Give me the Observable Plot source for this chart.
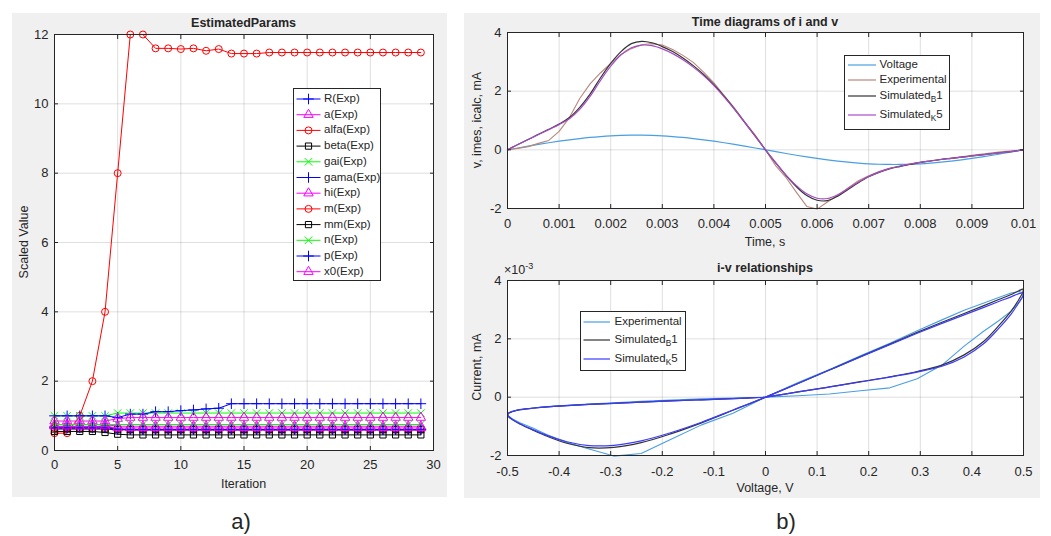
<!DOCTYPE html>
<html><head><meta charset="utf-8">
<script src="https://cdn.jsdelivr.net/npm/d3@7"></script>
<script src="https://cdn.jsdelivr.net/npm/@observablehq/plot@0.6"></script>
<style>
body{margin:0;background:#fff;}
#fig{position:relative;width:1051px;height:536px;background:#fff;font-family:"Liberation Sans",Arial,sans-serif;color:#262626;overflow:hidden}
.panel{position:absolute;background:#f0f0f0}
.abs{position:absolute;white-space:nowrap;line-height:1;color:#262626}
.lg{position:absolute;background:#fff;border:1px solid #262626;box-sizing:border-box}
sub{font-size:0.72em;vertical-align:-0.35em;line-height:0}
sup{font-size:0.72em;vertical-align:0.55em;line-height:0}
</style></head><body><div id="fig"></div>
<script>
// ---------- Panel a data ----------
const iterations = [0,1,2,3,4,5,6,7,8,9,10,11,12,13,14,15,16,17,18,19,20,21,22,23,24,25,26,27,28,29];
const R    = [0.68,0.68,0.68,0.68,0.70,0.62,0.60,0.60,0.60,0.60,0.60,0.60,0.60,0.60,0.60,0.60,0.60,0.60,0.60,0.60,0.60,0.60,0.60,0.60,0.60,0.60,0.60,0.60,0.60,0.60];
const a    = [0.75,0.75,0.75,0.75,0.75,0.70,0.70,0.70,0.70,0.70,0.70,0.70,0.70,0.70,0.70,0.70,0.70,0.70,0.70,0.70,0.70,0.70,0.70,0.70,0.70,0.70,0.70,0.70,0.70,0.70];
const alfa = [0.5,0.5,1.0,2.0,4.0,8.0,12.0,12.0,11.6,11.6,11.58,11.6,11.53,11.58,11.45,11.45,11.45,11.48,11.48,11.48,11.48,11.48,11.48,11.48,11.48,11.48,11.48,11.48,11.48,11.48];
const beta = [0.55,0.55,0.55,0.55,0.52,0.47,0.45,0.45,0.45,0.45,0.45,0.45,0.45,0.45,0.45,0.45,0.45,0.45,0.45,0.45,0.45,0.45,0.45,0.45,0.45,0.45,0.45,0.45,0.45,0.45];
const gai  = [1.0,1.0,1.0,1.0,1.0,1.08,1.08,1.08,1.08,1.08,1.08,1.08,1.08,1.08,1.08,1.08,1.08,1.08,1.08,1.08,1.08,1.08,1.08,1.08,1.08,1.08,1.08,1.08,1.08,1.08];
const gama = [1.0,1.0,1.0,1.0,1.0,0.95,1.05,1.05,1.12,1.12,1.15,1.17,1.2,1.22,1.35,1.35,1.35,1.35,1.35,1.35,1.35,1.35,1.35,1.35,1.35,1.35,1.35,1.35,1.35,1.35];
const hi   = [0.85,0.85,0.85,0.85,0.85,0.92,0.95,0.95,0.95,0.95,0.95,0.95,0.95,0.95,0.95,0.95,0.95,0.95,0.95,0.95,0.95,0.95,0.95,0.95,0.95,0.95,0.95,0.95,0.95,0.95];
const m    = [0.65,0.65,0.65,0.65,0.65,0.62,0.60,0.60,0.60,0.60,0.60,0.60,0.60,0.60,0.60,0.60,0.60,0.60,0.60,0.60,0.60,0.60,0.60,0.60,0.60,0.60,0.60,0.60,0.60,0.60];
const mm   = [0.62,0.62,0.62,0.62,0.62,0.60,0.60,0.60,0.60,0.60,0.60,0.60,0.60,0.60,0.60,0.60,0.60,0.60,0.60,0.60,0.60,0.60,0.60,0.60,0.60,0.60,0.60,0.60,0.60,0.60];
const n    = [0.75,0.75,0.75,0.75,0.75,0.75,0.75,0.75,0.75,0.75,0.75,0.75,0.75,0.75,0.75,0.75,0.75,0.75,0.75,0.75,0.75,0.75,0.75,0.75,0.75,0.75,0.75,0.75,0.75,0.75];
const p    = [0.65,0.65,0.65,0.65,0.65,0.60,0.60,0.60,0.60,0.60,0.60,0.60,0.60,0.60,0.60,0.60,0.60,0.60,0.60,0.60,0.60,0.60,0.60,0.60,0.60,0.60,0.60,0.60,0.60,0.60];
const x0   = [0.70,0.70,0.70,0.70,0.70,0.65,0.65,0.65,0.65,0.65,0.65,0.65,0.65,0.65,0.65,0.65,0.65,0.65,0.65,0.65,0.65,0.65,0.65,0.65,0.65,0.65,0.65,0.65,0.65,0.65];
const paramNames = ["R(Exp)","a(Exp)","alfa(Exp)","beta(Exp)","gai(Exp)","gama(Exp)","hi(Exp)","m(Exp)","mm(Exp)","n(Exp)","p(Exp)","x0(Exp)"];
const paramValues = [R,a,alfa,beta,gai,gama,hi,m,mm,n,p,x0];
const xTicksA = [0,5,10,15,20,25,30];
const yTicksA = [0,2,4,6,8,10,12];

// ---------- Panel b data ----------
const timeS = [0,0.0002,0.0004,0.0006,0.0008,0.001,0.0012,0.0014,0.0016,0.0018,0.002,0.0022,0.0024,0.0026,0.0028,0.003,0.0032,0.0034,0.0036,0.0038,0.004,0.0042,0.0044,0.0046,0.0048,0.005,0.0052,0.0054,0.0056,0.0058,0.006,0.0062,0.0064,0.0066,0.0068,0.007,0.0072,0.0074,0.0076,0.0078,0.008,0.0082,0.0084,0.0086,0.0088,0.009,0.0092,0.0094,0.0096,0.0098,0.01];
const voltage = [0,0.063,0.124,0.184,0.241,0.294,0.342,0.385,0.422,0.452,0.476,0.491,0.499,0.499,0.491,0.476,0.452,0.422,0.385,0.342,0.294,0.241,0.184,0.124,0.063,0,-0.063,-0.124,-0.184,-0.241,-0.294,-0.342,-0.385,-0.422,-0.452,-0.476,-0.491,-0.499,-0.499,-0.491,-0.476,-0.452,-0.422,-0.385,-0.342,-0.294,-0.241,-0.184,-0.124,-0.063,0];
const experimental = [0,0.05,0.11,0.22,0.32,0.63,1.10,1.75,2.25,2.62,2.95,3.25,3.45,3.58,3.62,3.57,3.42,3.22,2.98,2.65,2.28,1.85,1.42,0.95,0.50,0,-0.55,-0.95,-1.45,-1.93,-2.02,-1.78,-1.55,-1.30,-1.05,-0.88,-0.74,-0.63,-0.55,-0.48,-0.43,-0.37,-0.32,-0.28,-0.24,-0.19,-0.14,-0.10,-0.06,-0.03,0];
const simulatedB1 = [0,0.18,0.35,0.53,0.70,0.88,1.10,1.45,1.90,2.45,2.95,3.35,3.62,3.70,3.65,3.52,3.35,3.13,2.87,2.57,2.22,1.82,1.39,0.93,0.47,0,-0.45,-0.88,-1.26,-1.56,-1.72,-1.73,-1.58,-1.35,-1.12,-0.92,-0.77,-0.65,-0.57,-0.50,-0.43,-0.38,-0.33,-0.29,-0.25,-0.21,-0.17,-0.13,-0.09,-0.05,0];
const simulatedK5 = [0,0.18,0.35,0.52,0.69,0.86,1.06,1.38,1.82,2.36,2.85,3.24,3.48,3.57,3.55,3.44,3.28,3.07,2.82,2.53,2.19,1.80,1.38,0.93,0.47,0,-0.44,-0.86,-1.22,-1.50,-1.65,-1.66,-1.53,-1.32,-1.10,-0.91,-0.76,-0.64,-0.56,-0.49,-0.43,-0.38,-0.33,-0.29,-0.25,-0.21,-0.17,-0.13,-0.09,-0.05,0];
const xTicksTop = [0,0.001,0.002,0.003,0.004,0.005,0.006,0.007,0.008,0.009,0.01];
const yTicksTop = [-2,0,2,4];
const xTicksIV = [-0.5,-0.4,-0.3,-0.2,-0.1,0,0.1,0.2,0.3,0.4,0.5];
const yTicksIV = [-2,0,2,4];

// ---------- styles ----------
const paramColors = ["#0000ff","#ff00ff","#ff0000","#000000","#00ff00","#0000ff","#ff00ff","#ff0000","#000000","#00ff00","#0000ff","#ff00ff"];
const paramSymbols = ["plus","triangle","circle","square","times","plus","triangle","circle","square","times","plus","triangle"];
const C = {volt:"#4a9fe0", expTop:"#b8877c", b1:"#333333", k5top:"#a64dc4", expIV:"#4a9fe0", k5IV:"#3b3bff"};
const FONT = "'Liberation Sans', Arial, sans-serif";
const GRID = {stroke:"#262626", strokeOpacity:0.15, strokeWidth:1};
const TICKFS = 13;

const fig = document.getElementById("fig");
function panel(l,t,w,h){const d=document.createElement("div");d.className="panel";Object.assign(d.style,{left:l+"px",top:t+"px",width:w+"px",height:h+"px"});fig.appendChild(d);}
function txt(s,x,y,{size=12,weight="normal",rotate=0,anchor="middle",html=false}={}){
  const d=document.createElement("div");d.className="abs";
  if(html)d.innerHTML=s;else d.textContent=s;
  d.style.fontSize=size+"px";d.style.fontWeight=weight;d.style.left=x+"px";d.style.top=y+"px";
  const tx=anchor==="middle"?"-50%":anchor==="start"?"0":"-100%";
  d.style.transform=`translate(${tx},-50%)`+(rotate?` rotate(${rotate}deg)`:"");
  fig.appendChild(d);return d;
}
function place(svg,l,t){svg.style.position="absolute";svg.style.left=l+"px";svg.style.top=t+"px";fig.appendChild(svg);}
const fmtNum = d => String(d);
function boxAxes(xT,yT,xFmt,yFmt,padX,padY){
  const blank=()=>"";
  return [
    Plot.frame({stroke:"#262626",strokeWidth:1}),
    Plot.axisX(xT,{anchor:"bottom",tickSize:-4,tickFormat:blank,label:null}),
    Plot.axisX(xT,{anchor:"top",tickSize:-4,tickFormat:blank,label:null}),
    Plot.axisY(yT,{anchor:"left",tickSize:-4,tickFormat:blank,label:null}),
    Plot.axisY(yT,{anchor:"right",tickSize:-4,tickFormat:blank,label:null}),
    Plot.axisX(xT,{anchor:"bottom",tickSize:0,tickPadding:padX,tickFormat:xFmt,label:null,fontSize:TICKFS}),
    Plot.axisY(yT,{anchor:"left",tickSize:0,tickPadding:padY,tickFormat:yFmt,label:null,fontSize:TICKFS})
  ];
}
const svgStyle={fontFamily:FONT,fontSize:"12px",color:"#262626",background:"transparent",overflow:"visible"};

// ---------- backgrounds ----------
panel(12,13,435,484);
panel(464,13,576,485);

// ---------- Panel a ----------
const seriesMarks=[];
paramValues.forEach((vals,k)=>{
  const rows=iterations.map((it,i)=>({x:it,y:vals[i]}));
  seriesMarks.push(Plot.line(rows,{x:"x",y:"y",stroke:paramColors[k],strokeWidth:1}));
  seriesMarks.push(Plot.dot(rows,{x:"x",y:"y",stroke:paramColors[k],fill:"none",symbol:paramSymbols[k],r:3.5,strokeWidth:1}));
});
const plotA=Plot.plot({
  width:435,height:484,marginLeft:42,marginRight:14,marginTop:21,marginBottom:47,
  style:svgStyle,
  x:{domain:[0,30]},y:{domain:[0,12]},
  marks:[
    Plot.frame({fill:"white",stroke:"none"}),
    Plot.gridX(xTicksA,GRID),Plot.gridY(yTicksA,GRID),
    ...seriesMarks,
    ...boxAxes(xTicksA,yTicksA,fmtNum,fmtNum,9,6)
  ]
});
place(plotA,12,13);

// ---------- Panel b top ----------
const rowsT=timeS.map((t,i)=>({t,v:voltage[i],e:experimental[i],b:simulatedB1[i],k:simulatedK5[i]}));
const plotTop=Plot.plot({
  width:576,height:230,marginLeft:43,marginRight:17,marginTop:19,marginBottom:35,
  style:svgStyle,
  x:{domain:[0,0.01]},y:{domain:[-2,4]},
  marks:[
    Plot.frame({fill:"white",stroke:"none"}),
    Plot.gridX(xTicksTop,GRID),Plot.gridY(yTicksTop,GRID),
    Plot.line(rowsT,{x:"t",y:"v",stroke:C.volt,strokeWidth:1.2,curve:"catmull-rom"}),
    Plot.line(rowsT,{x:"t",y:"e",stroke:C.expTop,strokeWidth:1.1}),
    Plot.line(rowsT,{x:"t",y:"b",stroke:C.b1,strokeWidth:1.2,curve:"catmull-rom"}),
    Plot.line(rowsT,{x:"t",y:"k",stroke:C.k5top,strokeWidth:1.2,curve:"catmull-rom"}),
    ...boxAxes(xTicksTop,yTicksTop,fmtNum,fmtNum,10,6)
  ]
});
place(plotTop,464,13);

// ---------- Panel b bottom (i-v) ----------
const plotIV=Plot.plot({
  width:576,height:235,marginLeft:43,marginRight:17,marginTop:25,marginBottom:35,
  style:svgStyle,
  x:{domain:[-0.5,0.5]},y:{domain:[-2,4]},
  marks:[
    Plot.frame({fill:"white",stroke:"none"}),
    Plot.gridX(xTicksIV,GRID),Plot.gridY(yTicksIV,GRID),
    Plot.line(rowsT,{x:"v",y:"e",stroke:C.expIV,strokeWidth:1.1}),
    Plot.line(rowsT,{x:"v",y:"b",stroke:C.b1,strokeWidth:1.2,curve:"catmull-rom"}),
    Plot.line(rowsT,{x:"v",y:"k",stroke:C.k5IV,strokeWidth:1.2,curve:"catmull-rom"}),
    ...boxAxes(xTicksIV,yTicksIV,fmtNum,fmtNum,11,6)
  ]
});
place(plotIV,464,255);

// ---------- Legend boxes ----------
function lgBox(l,t,w,h){const d=document.createElement("div");d.className="lg";Object.assign(d.style,{left:l+"px",top:t+"px",width:w+"px",height:h+"px"});fig.appendChild(d);}
lgBox(293,88,88,193);
lgBox(844,55,106,75);
lgBox(580,311,106,60);

// overlay svg for legend samples
const ov=d3.create("svg").attr("width",1051).attr("height",536).style("position","absolute").style("left","0").style("top","0").style("pointer-events","none");
const symMap={plus:d3.symbolPlus,triangle:d3.symbolTriangle,circle:d3.symbolCircle,square:d3.symbolSquare,times:d3.symbolTimes||d3.symbolX};
paramNames.forEach((nm,i)=>{
  const y=99+15.7*i;
  ov.append("line").attr("x1",296.5).attr("x2",320.5).attr("y1",y).attr("y2",y).attr("stroke",paramColors[i]).attr("stroke-width",1);
  ov.append("path").attr("d",d3.symbol().type(symMap[paramSymbols[i]]).size(Math.PI*3.5*3.5)()).attr("transform",`translate(308.5,${y})`).attr("fill","none").attr("stroke",paramColors[i]).attr("stroke-width",1);
  txt(nm,324,y,{size:11.5,anchor:"start"});
});
const topLeg=[["Voltage",C.volt,65],["Experimental",C.expTop,80],["Simulated<sub>B</sub>1",C.b1,96],["Simulated<sub>K</sub>5",C.k5top,115]];
topLeg.forEach(([s,c,y])=>{
  ov.append("line").attr("x1",848).attr("x2",876).attr("y1",y).attr("y2",y).attr("stroke",c).attr("stroke-width",1.2);
  txt(s,879.5,y,{size:11.5,anchor:"start",html:true});
});
const ivLeg=[["Experimental",C.expIV,322],["Simulated<sub>B</sub>1",C.b1,340],["Simulated<sub>K</sub>5",C.k5IV,359]];
ivLeg.forEach(([s,c,y])=>{
  ov.append("line").attr("x1",583.5).attr("x2",610).attr("y1",y).attr("y2",y).attr("stroke",c).attr("stroke-width",1.2);
  txt(s,614.5,y,{size:11.5,anchor:"start",html:true});
});
fig.appendChild(ov.node());

// ---------- Texts ----------
txt("EstimatedParams",243.5,23,{size:12.5,weight:"bold"});
txt("Iteration",243.5,484,{size:12.5});
txt("Scaled Value",24,242,{size:12.5,rotate:-90});
txt("a)",241,522,{size:22});
txt("Time diagrams of i and v",765,22,{size:12.5,weight:"bold"});
txt("Time, s",765,242,{size:12.5});
txt("v, imes, icalc, mA",477,120,{size:12.5,rotate:-90});
txt("i-v relationships",765,268,{size:12.5,weight:"bold"});
txt("×10<sup>-3</sup>",504,270,{size:12.5,anchor:"start",html:true});
txt("Voltage, V",765,488,{size:12.5});
txt("Current, mA",477,367,{size:12.5,rotate:-90});
txt("b)",786,522,{size:22});
</script></body></html>
